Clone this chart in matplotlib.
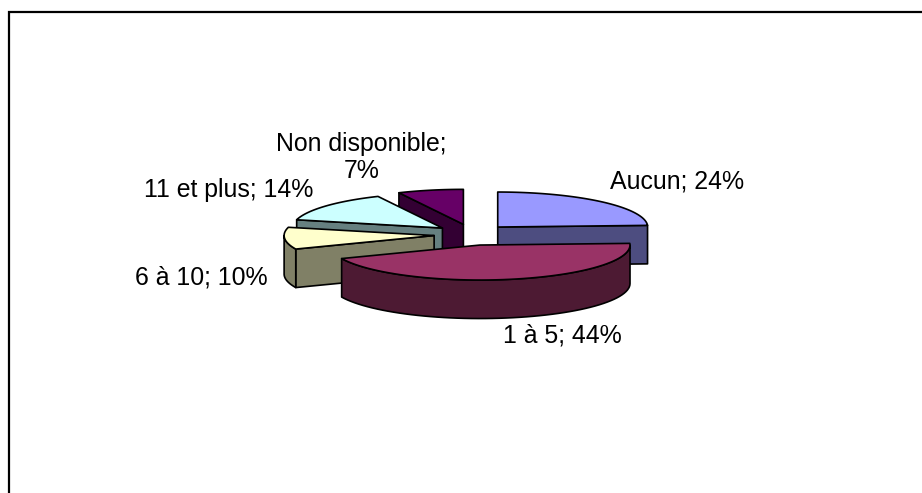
import numpy as np
import matplotlib
matplotlib.use("Agg")
import matplotlib.pyplot as plt

labels = ['Aucun; 24%', '1 à 5; 44%', '6 à 10; 10%', '11 et plus; 14%', 'Non disponible;\n7%']
values = [24, 44, 10, 14, 7]
top_colors = ['#9999FF', '#993366', '#FFFFCC', '#CCFFFF', '#660066']
side_colors = ['#4D4D80', '#4D1A33', '#808066', '#668080', '#330033']

# pie geometry, in pixels of the picture
cx, cy = 471.7, 234.7
rx, ry = 150, 35
depth = 38.5
explode_x, explode_y = 37.7, 10.6

fig = plt.figure(figsize=(9.22, 4.93), dpi=100)
ax = fig.add_axes([0, 0, 1, 1])
ax.set_xlim(0, 922)
ax.set_ylim(493, 0)
ax.axis('off')

# frame, only left and top are inside the picture
ax.plot([9, 9, 922], [493, 11.5, 11.5], color='black', lw=1.6, solid_joinstyle='miter')


def rim_points(x0, y0, start, end, n=60):
    a = np.radians(np.linspace(start, end, n))
    return x0 + rx * np.cos(a), y0 - ry * np.sin(a)


fracs = np.array(values) / sum(values)
ends = 90 - 360 * np.cumsum(fracs)
starts = np.r_[90, ends[:-1]]

# back to front
for i in [4, 3, 0, 2, 1]:
    s, e = starts[i], ends[i]
    mid = np.radians((s + e) / 2)
    x0 = cx + explode_x * np.cos(mid)
    y0 = cy - explode_y * np.sin(mid)
    style = dict(edgecolor='black', lw=1.2, joinstyle='round')

    # flat cut faces, only when they look at the viewer
    for ang, visible in [(s, np.cos(np.radians(s)) < -0.01), (e, np.cos(np.radians(e)) > 0.01)]:
        if visible:
            px = x0 + rx * np.cos(np.radians(ang))
            py = y0 - ry * np.sin(np.radians(ang))
            ax.fill([x0, px, px, x0], [y0, py, py + depth, y0 + depth], facecolor=side_colors[i], **style)

    # outer rim, front half only
    lo, hi = max(e, -180), min(s, 0)
    if hi > lo:
        xr, yr = rim_points(x0, y0, hi, lo)
        ax.fill(np.r_[xr, xr[::-1]], np.r_[yr, yr[::-1] + depth], facecolor=side_colors[i], **style)

    xt, yt = rim_points(x0, y0, s, e)
    ax.fill(np.r_[x0, xt], np.r_[y0, yt], facecolor=top_colors[i], **style)

label_pos = [(677.5, 182), (562, 336), (201.5, 278), (229, 190), (361.5, 157.5)]
for lab, (x, y) in zip(labels, label_pos):
    ax.text(x, y, lab, ha='center', va='center', fontsize=17.9, family='Liberation Sans',
            color='black', linespacing=1.2)

fig.savefig('out.png', dpi=100)
